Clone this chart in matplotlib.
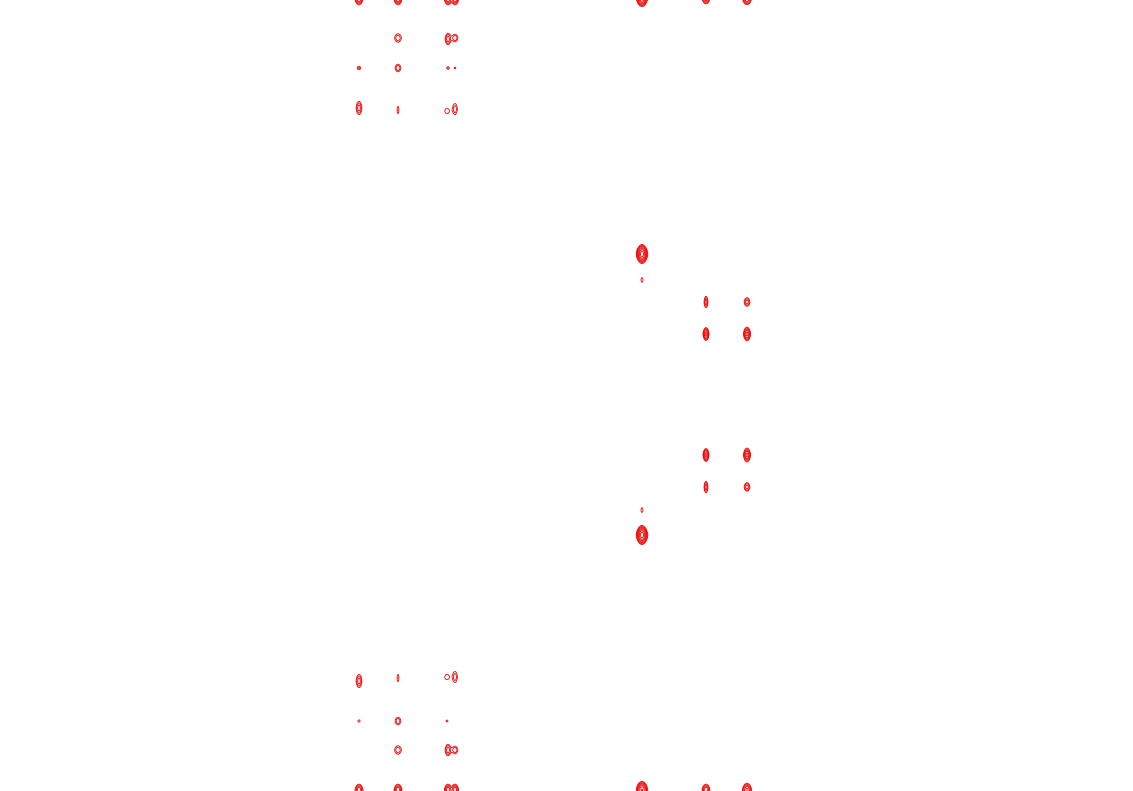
import numpy as np
import matplotlib
matplotlib.use("Agg")
import matplotlib.pyplot as plt

# peak table: position along f2 (x) and f1 (y), height, widths (sigma)
peak_x = [359, 398, 448, 455,
          398, 448, 455,
          359, 398, 448, 455,
          359, 398, 447, 455,
          359, 398, 447, 455,
          359, 398, 447,
          398, 448, 455,
          359, 398, 448, 455,
          642, 706, 747,
          642, 642,
          706, 747,
          706, 747,
          706, 747,
          706, 747,
          642, 642,
          642, 706, 747]
peak_y = [-1, -1, -1, -1,
          38, 39, 38,
          68, 68, 68, 68,
          108, 110, 111, 109,
          681, 678, 677, 677,
          721, 721, 721,
          750, 750, 750,
          790, 790, 790, 790,
          -2, -2, -2,
          254, 280,
          302, 302,
          334, 334,
          455, 455,
          487, 487,
          510, 535,
          790, 790, 790]
peak_amp = [5, 5, 5, 5,
            2.2, 3, 2.2,
            1.6, 2.2, 1.6, 1.2,
            3, 1.5, 1.4, 2,
            3, 1.5, 1.4, 2,
            1.4, 2.2, 1.3,
            2.2, 3, 2.2,
            5, 5, 5, 5,
            12, 5, 6,
            15, 1.3,
            3, 3,
            6, 6,
            6, 6,
            3, 3,
            1.3, 15,
            12, 5, 6]
peak_sx = [2.2, 2.2, 2.0, 2.0,
           2.8, 2.0, 2.4,
           2.0, 2.4, 1.5, 1.5,
           2.0, 1.1, 3.0, 2.1,
           2.0, 1.1, 3.0, 2.1,
           1.5, 2.4, 1.5,
           2.8, 2.0, 2.4,
           2.2, 2.2, 2.0, 2.0,
           2.5, 2.2, 2.4,
           2.4, 1.4,
           1.35, 2.0,
           1.6, 1.85,
           1.6, 1.85,
           1.35, 2.0,
           1.4, 2.4,
           2.5, 2.2, 2.4]
peak_sy = [3.3, 3.3, 3.3, 3.3,
           3.6, 4.0, 3.2,
           2.0, 3.2, 1.5, 1.5,
           4.7, 4.4, 3.6, 5.0,
           4.7, 4.4, 3.6, 5.0,
           1.5, 3.2, 1.5,
           3.6, 4.0, 3.2,
           3.3, 3.3, 3.3, 3.3,
           3.8, 3.3, 3.6,
           4.0, 3.4,
           4.0, 3.0,
           3.4, 3.7,
           3.4, 3.7,
           4.0, 3.0,
           3.4, 4.0,
           3.8, 3.3, 3.6]
lorentz_frac = 0.25  # share of Lorentzian in the lineshape

width, height = 1133, 791
x = np.arange(0, width, 0.5)
y = np.arange(-8, height + 8, 0.5)
z = np.zeros((len(y), len(x)))
for x0, y0, a, sx, sy in zip(peak_x, peak_y, peak_amp, peak_sx, peak_sy):
    gx = np.exp(-0.5 * ((x - x0) / sx) ** 2)
    gy = np.exp(-0.5 * ((y - y0) / sy) ** 2)
    lx = 1.0 / (1.0 + ((x - x0) / (0.8 * sx)) ** 2)
    ly = 1.0 / (1.0 + ((y - y0) / (0.8 * sy)) ** 2)
    z += a * ((1 - lorentz_frac) * np.outer(gy, gx) + lorentz_frac * np.outer(ly, lx))

levels = 1.0 * 1.5 ** np.arange(8)

fig = plt.figure(figsize=(width / 100, height / 100), dpi=100)
ax = fig.add_axes([0, 0, 1, 1])
ax.contour(x, y, z, levels=levels, colors="#ee0000", linewidths=0.6)
ax.set_xlim(0, width)
ax.set_ylim(height, 0)
ax.axis("off")
fig.savefig("out.png", dpi=100)
